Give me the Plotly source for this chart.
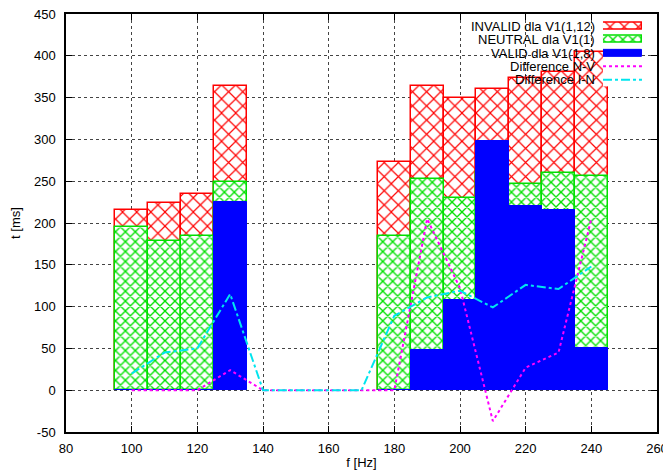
import plotly.graph_objects as go

# ---- data ----
freq = [100, 110, 120, 130, 140, 150, 160, 170, 180, 190, 200, 210, 220, 230, 240]
invalid = [215, 224, 235, 364, None, None, None, None, 273, 364, 349, 360, 373, 381, 404]
neutral = [195, 179, 185, 249, None, None, None, None, 184, 253, 230, 261, 247, 260, 256]
valid = [0, 0, 0, 225, None, None, None, None, 0, 48, 108, 298, 220, 215, 51]
diff_nv = [0, 0, 0, 24, 0, 0, 0, 0, 0, 205, 122, -37, 27, 45, 205]
diff_in = [20, 45, 50, 115, 0, 0, 0, 0, 89, 111, 119, 99, 126, 121, 148]

x_ticks = [80, 100, 120, 140, 160, 180, 200, 220, 240, 260]
y_ticks = [-50, 0, 50, 100, 150, 200, 250, 300, 350, 400, 450]

names = ["INVALID dla V1(1,12)", "NEUTRAL dla V1(1)", "VALID dla V1(1,8)",
         "Difference N-V", "Difference I-N"]

FONT = "Liberation Sans, Arial, sans-serif"
RED = "#ff0000"
GREEN = "#00e000"
BLUE = "#0000ff"
MAG = "#ff00ff"
CYAN = "#00e5ee"

red_marker = dict(color="white", line=dict(color=RED, width=1.5),
                  pattern=dict(shape="x", fgcolor=RED, bgcolor="white", size=10, solidity=0.22))
green_marker = dict(color="white", line=dict(color=GREEN, width=1.5),
                    pattern=dict(shape="x", fgcolor=GREEN, bgcolor="white", size=7, solidity=0.35))
blue_marker = dict(color=BLUE, line=dict(color=BLUE, width=1))
mag_line = dict(color=MAG, width=2, dash="dot")
cyan_line = dict(color=CYAN, width=2, dash="dashdot")

fig = go.Figure()
fig.add_trace(go.Bar(x=freq, y=invalid, width=10, marker=red_marker, name=names[0], showlegend=False))
fig.add_trace(go.Bar(x=freq, y=neutral, width=10, marker=green_marker, name=names[1], showlegend=False))
fig.add_trace(go.Bar(x=freq, y=valid, width=10, marker=blue_marker, name=names[2], showlegend=False))
fig.add_trace(go.Scatter(x=freq, y=diff_nv, mode="lines", line=mag_line, name=names[3], showlegend=False))
fig.add_trace(go.Scatter(x=freq, y=diff_in, mode="lines", line=cyan_line, name=names[4], showlegend=False))

# ---- gnuplot-style key: text on the left, sample on the right ----
rows = list(range(len(names)))
fig.add_trace(go.Bar(y=[rows[0]], x=[1], orientation="h", width=0.53, marker=red_marker,
                     xaxis="x2", yaxis="y2", showlegend=False, hoverinfo="skip"))
fig.add_trace(go.Bar(y=[rows[1]], x=[1], orientation="h", width=0.53, marker=green_marker,
                     xaxis="x2", yaxis="y2", showlegend=False, hoverinfo="skip"))
fig.add_trace(go.Bar(y=[rows[2]], x=[1], orientation="h", width=0.53, marker=blue_marker,
                     xaxis="x2", yaxis="y2", showlegend=False, hoverinfo="skip"))
fig.add_trace(go.Scatter(x=[0, 1], y=[rows[3]] * 2, mode="lines", line=mag_line,
                         xaxis="x2", yaxis="y2", showlegend=False, hoverinfo="skip"))
fig.add_trace(go.Scatter(x=[0, 1], y=[rows[4]] * 2, mode="lines", line=cyan_line,
                         xaxis="x2", yaxis="y2", showlegend=False, hoverinfo="skip"))

annotations = [dict(text=n, xref="paper", yref="y2", x=0.8985, y=r, xanchor="right",
                    yanchor="middle", showarrow=False,
                    font=dict(family=FONT, size=13, color="black"))
               for n, r in zip(names, rows)]

axis_common = dict(
    showline=True, linecolor="black", linewidth=1.5, mirror="ticks",
    ticks="inside", ticklen=6, tickcolor="black", tickwidth=1,
    showgrid=True, gridcolor="#444444", griddash="dot", gridwidth=1,
    zeroline=False, automargin=False, ticklabeloverflow="allow",
    tickfont=dict(family=FONT, size=13, color="black"),
)

# the page body has an 8px margin, so the figure is sized to fit the 671x471 window
fig.update_layout(
    template="none",
    width=663, height=463,
    margin=dict(l=58, r=14, t=6, b=39, pad=0),
    paper_bgcolor="white", plot_bgcolor="white",
    barmode="overlay", bargap=0,
    showlegend=False,
    font=dict(family=FONT, size=13, color="black"),
    xaxis=dict(range=[80, 260], tickvals=x_ticks, ticktext=[str(v) for v in x_ticks],
               ticklabelstandoff=4,
               title=dict(text="f [Hz]", standoff=3, font=dict(family=FONT, size=13)),
               **axis_common),
    yaxis=dict(range=[-50, 450], tickvals=y_ticks, ticktext=[str(v) for v in y_ticks],
               ticklabelstandoff=6,
               title=dict(text="t [ms]", standoff=10, font=dict(family=FONT, size=13)),
               **axis_common),
    xaxis2=dict(domain=[0.9086, 0.9746], range=[0, 1], anchor="y2", visible=False, fixedrange=True),
    yaxis2=dict(domain=[0.827, 0.986], range=[4.5, -0.5], anchor="x2", visible=False, fixedrange=True),
    annotations=annotations,
)

fig.write_html("out.html")
